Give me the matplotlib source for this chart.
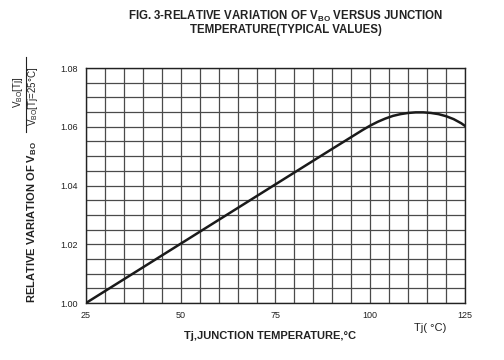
import matplotlib
matplotlib.use("Agg")
import matplotlib.pyplot as plt
import numpy as np

plt.rcParams['font.family'] = ['Liberation Sans', 'DejaVu Sans']
plt.rcParams['mathtext.fontset'] = 'custom'
plt.rcParams['mathtext.rm'] = 'Liberation Sans'
plt.rcParams['mathtext.bf'] = 'Liberation Sans:bold'

temp = [25, 50, 75, 90, 95, 98, 100, 102, 104, 106, 108, 110, 112, 114, 116, 118, 120, 122, 124, 125]
ratio = [1.000, 1.0202, 1.0404, 1.0525, 1.0565, 1.0589, 1.0604, 1.0617, 1.0628, 1.0637, 1.0643,
         1.0647, 1.0649, 1.0649, 1.0647, 1.0643, 1.0636, 1.0626, 1.0612, 1.0603]
xticks = [25, 50, 75, 100, 125]
yticks = [1.00, 1.02, 1.04, 1.06, 1.08]

fig = plt.figure(figsize=(5.04, 3.6), dpi=100)
ax = fig.add_axes([0.1706, 0.1583, 0.7520, 0.6528])

ax.plot(temp, ratio, color='#1a1a1a', lw=1.8, zorder=3, solid_joinstyle='round')
ax.set_xlim(25, 125)
ax.set_ylim(1.00, 1.08)
ax.set_xticks(np.arange(25, 126, 5), minor=True)
ax.set_yticks(np.arange(1.00, 1.0801, 0.005), minor=True)
ax.set_xticks(xticks)
ax.set_xticklabels([str(v) for v in xticks])
ax.set_yticks(yticks)
ax.set_yticklabels([f"{v:.2f}" for v in yticks])
ax.grid(which='both', color='#4a4a4a', lw=0.9)
ax.tick_params(which='both', length=0, labelsize=6.5, colors='#222222')
ax.tick_params(axis='x', pad=6)
ax.tick_params(axis='y', pad=6)
for s in ax.spines.values():
    s.set_color('#222222')
    s.set_linewidth(1.0)

fig.text(0.567, 0.937,
         'FIG. 3-RELATIVE VARIATION OF V$\\mathbf{_{BO}}$ VERSUS JUNCTION\nTEMPERATURE(TYPICAL VALUES)',
         ha='center', va='center', multialignment='center', linespacing=0.95,
         fontsize=8.3, fontweight='bold', color='#222222')

fig.text(0.535, 0.068, 'Tj,JUNCTION TEMPERATURE,\u00b0C', ha='center', va='center',
         fontsize=8, fontweight='bold', color='#222222')
fig.text(0.853, 0.090, 'Tj( \u00b0C)', ha='center', va='center', fontsize=8, color='#222222')

fig.text(0.064, 0.383, r'RELATIVE VARIATION OF V$\mathbf{_{BO}}$', rotation=90,
         ha='center', va='center', fontsize=8, fontweight='bold', color='#222222')
fig.text(0.036, 0.745, r'V$_{\mathrm{BO}}$[Tj]', rotation=90, ha='center', va='center',
         fontsize=7, color='#222222')
fig.text(0.066, 0.733, 'V$_{\\mathrm{BO}}$[Tj=25\u00b0C]', rotation=90,
         ha='center', va='center', fontsize=7, color='#222222')
fig.add_artist(plt.Line2D([0.052, 0.052], [0.633, 0.842], color='#222222', lw=0.8,
                          transform=fig.transFigure))

fig.savefig('out.png', dpi=100)
